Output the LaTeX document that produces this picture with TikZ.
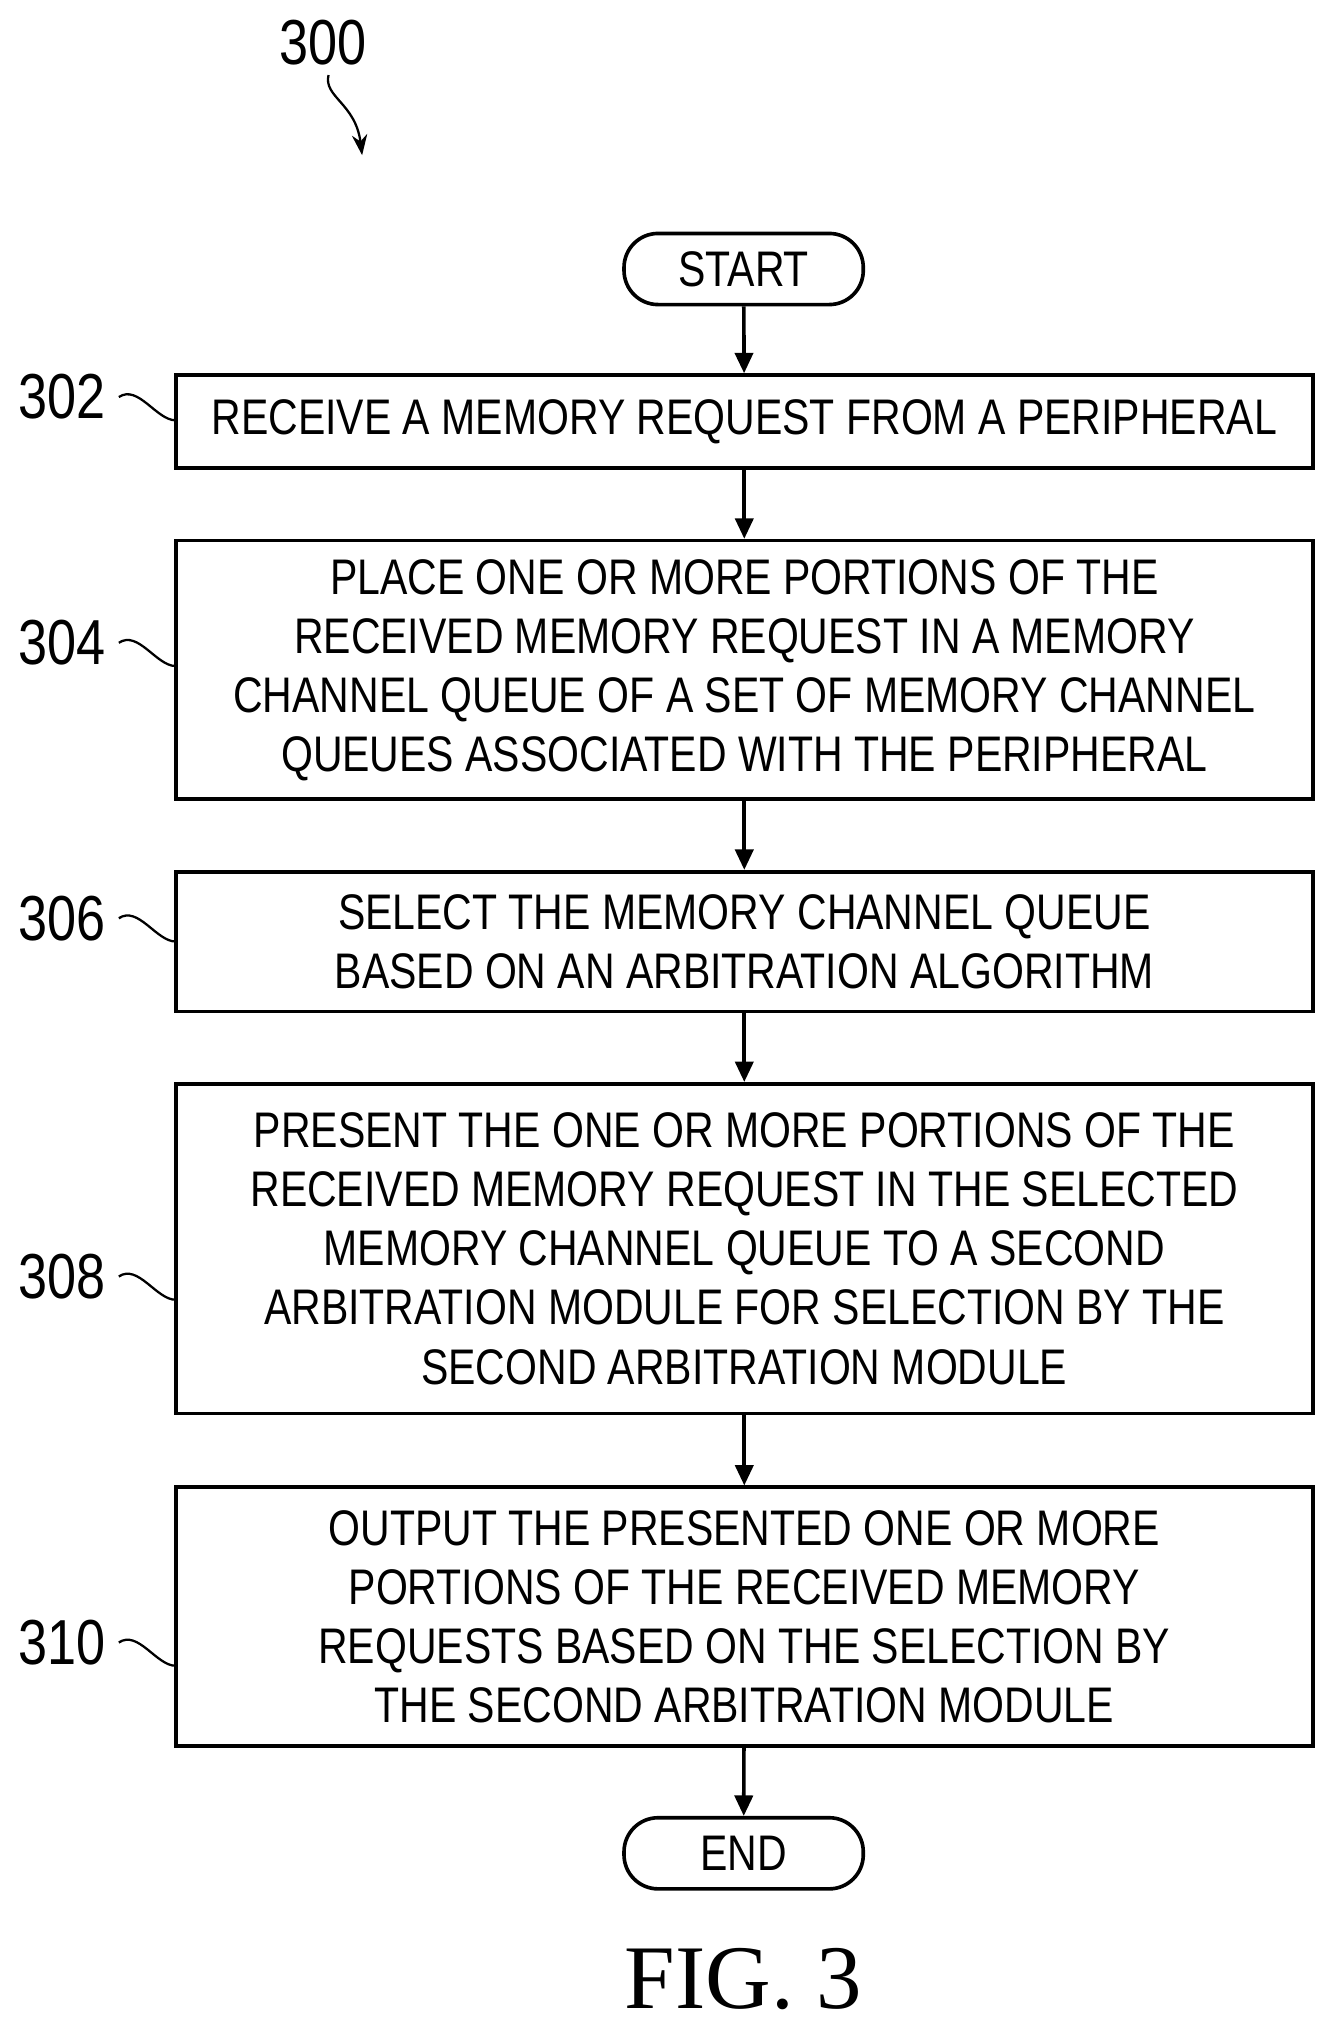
\documentclass[tikz,border=0pt]{standalone}
\usepackage{fontspec}
\setmainfont[FakeStretch=0.82]{Liberation Sans}
\newfontfamily\figfont{Liberation Serif}
\usetikzlibrary{arrows.meta}
\begin{document}
\begin{tikzpicture}[x=0.02cm,y=-0.02cm,
  box/.style={draw,line width=1.6pt,minimum width=879*0.02cm,align=center,font=\fontsize{22}{26}\selectfont,inner sep=0pt},
  term/.style={draw,line width=1.6pt,rounded corners=15pt,minimum width=185*0.02cm,minimum height=55*0.02cm,font=\fontsize{22}{26}\selectfont},
  arr/.style={line width=1.6pt,-{Triangle[length=9pt,width=8pt]}},
  lab/.style={font=\fontsize{28}{30}\selectfont},
  sq/.style={line width=1pt}]
\useasboundingbox (0,0) rectangle (1030,1565);
\node[term] (start) at (575,208) {START};
\node[box,minimum height=72*0.02cm] (b302) at (575.5,326) {RECEIVE A MEMORY REQUEST FROM A PERIPHERAL};
\node[box,minimum height=200*0.02cm] (b304) at (575.5,518) {PLACE ONE OR MORE PORTIONS OF THE\\RECEIVED MEMORY REQUEST IN A MEMORY\\CHANNEL QUEUE OF A SET OF MEMORY CHANNEL\\QUEUES ASSOCIATED WITH THE PERIPHERAL};
\node[box,minimum height=108*0.02cm] (b306) at (575.5,728) {SELECT THE MEMORY CHANNEL QUEUE\\BASED ON AN ARBITRATION ALGORITHM};
\node[box,minimum height=255*0.02cm] (b308) at (575.5,965.5) {PRESENT THE ONE OR MORE PORTIONS OF THE\\RECEIVED MEMORY REQUEST IN THE SELECTED\\MEMORY CHANNEL QUEUE TO A SECOND\\ARBITRATION MODULE FOR SELECTION BY THE\\SECOND ARBITRATION MODULE};
\node[box,minimum height=200*0.02cm] (b310) at (575.5,1250) {OUTPUT THE PRESENTED ONE OR MORE\\PORTIONS OF THE RECEIVED MEMORY\\REQUESTS BASED ON THE SELECTION BY\\THE SECOND ARBITRATION MODULE};
\node[term] (end) at (575,1433) {END};
\draw[arr] (start) -- (b302);
\draw[arr] (b302) -- (b304);
\draw[arr] (b304) -- (b306);
\draw[arr] (b306) -- (b308);
\draw[arr] (b308) -- (b310);
\draw[arr] (b310) -- (end);
\foreach \n/\y/\t in {l302/307/302,l304/497/304,l306/710/306,l308/987/308,l310/1270/310}{
  \node[lab] (\n) at (48,\y) {\t};
  \draw[sq] (\n.east) ++(4,0) .. controls +(15,-10) and +(-15,0) .. ++(44,18);
}
\node[lab] (l300) at (250,33) {300};
\coordinate (c300) at (280,120);
\draw[sq,-{Stealth[length=9pt]}] (254,58) .. controls (250,75) and (275,80) .. (c300);
\node[font=\figfont\fontsize{40}{44}\selectfont] (fig) at (575,1530) {FIG. 3};
\end{tikzpicture}
\end{document}
